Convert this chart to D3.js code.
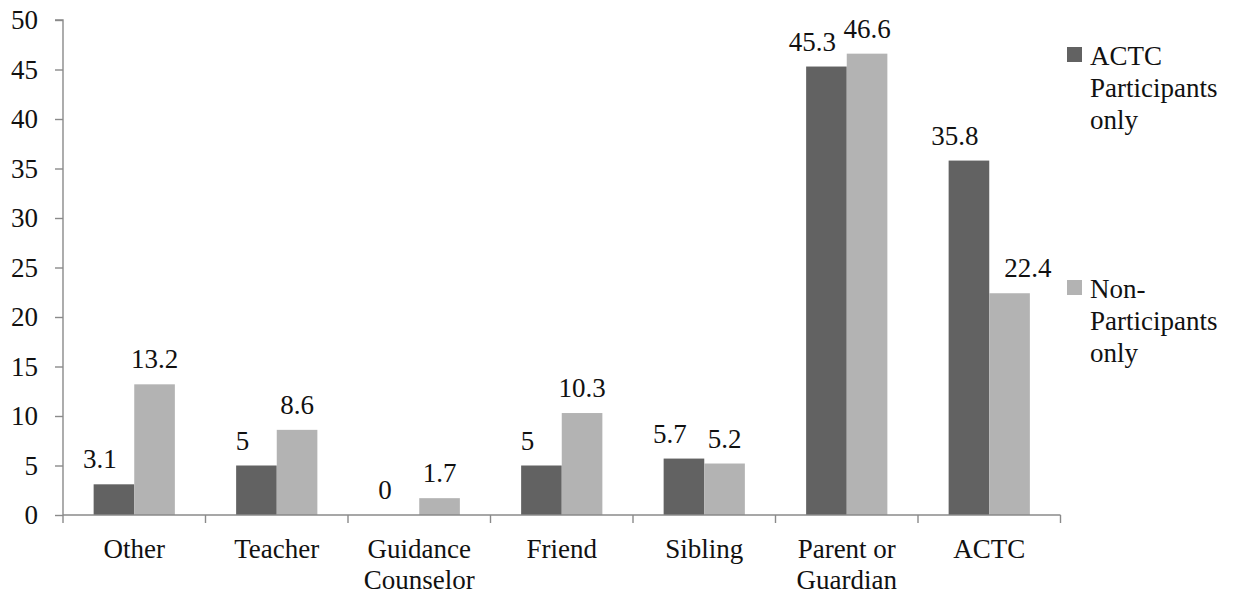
<!DOCTYPE html>
<html>
<head>
<meta charset="utf-8">
<script src="https://cdn.jsdelivr.net/npm/d3@7"></script>
<style>
  html, body { margin: 0; padding: 0; background: #fff; }
  svg { display: block; }
  text { font-family: "Liberation Serif", "DejaVu Serif", serif; fill: #111; }
</style>
</head>
<body>
<svg id="chart" width="1254" height="594"></svg>
<script>
const categories = ["Other", "Teacher", "Guidance\nCounselor", "Friend", "Sibling", "Parent or\nGuardian", "ACTC"];
const participants = [3.1, 5, 0, 5, 5.7, 45.3, 35.8];
const nonParticipants = [13.2, 8.6, 1.7, 10.3, 5.2, 46.6, 22.4];
const seriesNames = [["ACTC", "Participants", "only"], ["Non-", "Participants", "only"]];
const yTicks = [0, 5, 10, 15, 20, 25, 30, 35, 40, 45, 50];

const colors = ["#626262", "#b3b3b3"];
const series = [participants, nonParticipants];

const svg = d3.select("#chart");
const plotLeft = 63, plotRight = 1060.5, plotTop = 20, plotBottom = 515;

const x = d3.scaleBand().domain(categories).range([plotLeft, plotRight]).padding(0);
const y = d3.scaleLinear().domain([0, 50]).range([plotBottom, plotTop]);
const bw = x.bandwidth() * 0.285;
const barX = (i, si) => x(categories[i]) + x.bandwidth() / 2 - bw + si * bw;

// bars
series.forEach((vals, si) => {
  svg.append("g").selectAll("rect").data(vals).join("rect")
    .attr("x", (d, i) => barX(i, si))
    .attr("y", d => y(d))
    .attr("width", bw)
    .attr("height", d => y(0) - y(d))
    .attr("fill", colors[si]);
});

// value labels (kept clear of the neighbouring bar)
const labelGap = 15, labelRise = 16;
series.forEach((vals, si) => {
  const other = series[1 - si];
  svg.append("g").selectAll("text").data(vals).join("text")
    .attr("text-anchor", "middle")
    .attr("font-size", 27)
    .attr("y", d => y(d) - labelRise)
    .text(d => d)
    .each(function(d, i) {
      const w = this.getComputedTextLength();
      let cx = barX(i, si) + bw / 2 + (si === 0 ? -14 : 0);
      const labelTop = y(d) - labelRise - 19;
      const otherTop = y(other[i]);
      if (otherTop < y(d) - labelRise) {
        if (si === 1) {
          const minLeft = barX(i, 0) + bw + labelGap;
          if (cx - w / 2 < minLeft) cx = minLeft + w / 2;
        } else {
          const maxRight = barX(i, 1) - labelGap;
          if (cx + w / 2 > maxRight) cx = maxRight - w / 2;
        }
      }
      d3.select(this).attr("x", cx);
    });
});

// y axis
const yAxis = d3.axisLeft(y).tickValues(yTicks).tickSize(8).tickPadding(17).tickFormat(d3.format("d"));
const gy = svg.append("g").attr("transform", `translate(${plotLeft},0)`).call(yAxis);
gy.select(".domain").attr("stroke", "#8a8a8a").attr("stroke-width", 1.4).attr("d", `M-8,${plotTop}H0V${plotBottom}`);
gy.selectAll(".tick line").attr("stroke", "#8a8a8a").attr("stroke-width", 1.4);
gy.selectAll(".tick text").attr("font-size", 27).attr("font-family", "Liberation Serif").attr("fill", "#111");

// x axis
const bounds = categories.map(c => x(c)).concat([plotRight]);
const gx = svg.append("g");
gx.append("line").attr("x1", plotLeft).attr("x2", plotRight).attr("y1", plotBottom).attr("y2", plotBottom)
  .attr("stroke", "#8a8a8a").attr("stroke-width", 1.4);
gx.selectAll("line.tk").data(bounds).join("line").attr("class", "tk")
  .attr("x1", d => d).attr("x2", d => d).attr("y1", plotBottom).attr("y2", plotBottom + 8)
  .attr("stroke", "#8a8a8a").attr("stroke-width", 1.4);
const lbl = gx.selectAll("text").data(categories).join("text")
  .attr("x", d => x(d) + x.bandwidth() / 2)
  .attr("y", 558)
  .attr("text-anchor", "middle")
  .attr("font-size", 27);
lbl.each(function(d) {
  const t = d3.select(this);
  d.split("\n").forEach((line, i) => {
    t.append("tspan").attr("x", x(d) + x.bandwidth() / 2).attr("dy", i === 0 ? 0 : 31).text(line);
  });
});

// legend
const legendY = [65, 298];
seriesNames.forEach((lines, si) => {
  const g = svg.append("g");
  g.append("rect").attr("x", 1067).attr("y", legendY[si] - 18).attr("width", 15).attr("height", 15).attr("fill", colors[si]);
  const t = g.append("text").attr("x", 1090).attr("y", legendY[si]).attr("font-size", 27);
  lines.forEach((line, i) => {
    t.append("tspan").attr("x", 1090).attr("dy", i === 0 ? 0 : 32).text(line);
  });
});
</script>
</body>
</html>
